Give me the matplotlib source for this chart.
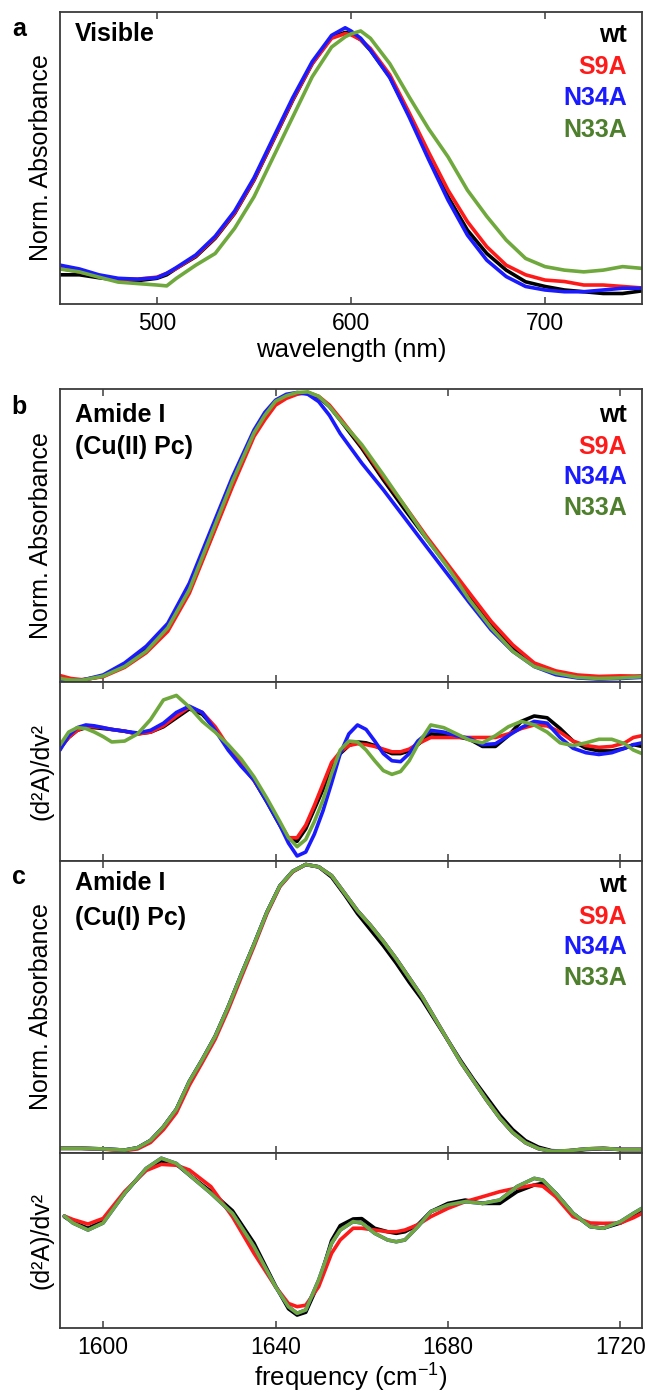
import matplotlib
matplotlib.use("Agg")
import matplotlib.pyplot as plt

plt.rcParams['font.family'] = ['Liberation Sans', 'DejaVu Sans']
plt.rcParams['mathtext.fontset'] = 'custom'
plt.rcParams['mathtext.rm'] = 'Liberation Sans'
plt.rcParams['mathtext.it'] = 'Liberation Sans:italic'

series_names = ["wt", "S9A", "N34A", "N33A"]
line_colors = ["#000000", "#ff1a1a", "#1a1aff", "#6fa83c"]
text_colors = ["#000000", "#ff1a1a", "#1a1aff", "#4e7f2c"]

# ---------------- panel a (visible) ----------------
wl = [450, 460, 470, 480, 490, 500, 505, 510, 520, 530, 540, 550, 560, 570, 580, 590, 597,
      600, 605, 610, 620, 630, 640, 650, 660, 670, 680, 690, 700, 710, 720, 730, 740, 750]
vis_wt = [0.10, 0.10, 0.09, 0.082, 0.08, 0.088, 0.10, 0.122, 0.162, 0.225, 0.31, 0.424, 0.561, 0.698, 0.823,
          0.914, 0.93, 0.926, 0.905, 0.869, 0.778, 0.647, 0.504, 0.367, 0.253, 0.173, 0.116, 0.076, 0.06,
          0.048, 0.042, 0.036, 0.036, 0.045]
vis_s9a = [0.122, 0.11, 0.095, 0.086, 0.085, 0.092, 0.105, 0.122, 0.165, 0.228, 0.312, 0.426, 0.563, 0.70, 0.823,
           0.91, 0.926, 0.922, 0.905, 0.875, 0.785, 0.655, 0.52, 0.39, 0.282, 0.196, 0.133, 0.10, 0.082,
           0.077, 0.065, 0.065, 0.06, 0.055]
vis_n34a = [0.133, 0.12, 0.10, 0.088, 0.085, 0.09, 0.105, 0.125, 0.168, 0.232, 0.318, 0.432, 0.57, 0.707, 0.83,
            0.92, 0.946, 0.935, 0.91, 0.869, 0.775, 0.64, 0.495, 0.356, 0.236, 0.15, 0.094, 0.06, 0.048,
            0.042, 0.042, 0.048, 0.054, 0.054]
vis_n33a = [0.12, 0.11, 0.092, 0.075, 0.07, 0.065, 0.062, 0.088, 0.133, 0.173, 0.259, 0.367, 0.504, 0.641, 0.778,
            0.88, 0.915, 0.925, 0.935, 0.91, 0.823, 0.709, 0.60, 0.504, 0.39, 0.30, 0.219, 0.156, 0.128,
            0.116, 0.11, 0.116, 0.128, 0.122]

# ---------------- panel b top (Cu(II) amide I) ----------------
fb = [1590, 1592.5, 1595, 1600, 1605, 1610, 1615, 1620, 1625, 1630, 1635, 1637.5, 1640, 1642.5, 1645, 1647.5,
      1650, 1652.5, 1655, 1660, 1665, 1670, 1675, 1680, 1685, 1690, 1695, 1700, 1705, 1710, 1715, 1720, 1725]
bt_wt = [0.015, 0.008, 0.006, 0.02, 0.058, 0.11, 0.185, 0.31, 0.49, 0.675, 0.845, 0.905, 0.952, 0.975, 0.985,
         0.988, 0.972, 0.94, 0.894, 0.798, 0.69, 0.588, 0.49, 0.394, 0.292, 0.195, 0.116, 0.06, 0.03, 0.016,
         0.012, 0.014, 0.02]
bt_s9a = [0.022, 0.012, 0.008, 0.018, 0.05, 0.10, 0.173, 0.303, 0.485, 0.667, 0.838, 0.895, 0.945, 0.968, 0.982,
          0.988, 0.975, 0.945, 0.90, 0.805, 0.70, 0.60, 0.497, 0.40, 0.303, 0.207, 0.127, 0.065, 0.038, 0.024,
          0.019, 0.021, 0.02]
bt_n34a = [0.01, 0.005, 0.006, 0.024, 0.065, 0.122, 0.20, 0.337, 0.519, 0.70, 0.86, 0.92, 0.962, 0.982, 0.988,
           0.982, 0.957, 0.91, 0.848, 0.747, 0.656, 0.559, 0.462, 0.366, 0.27, 0.178, 0.105, 0.053, 0.025, 0.014,
           0.01, 0.012, 0.016]
bt_n33a = [0.012, 0.007, 0.006, 0.02, 0.053, 0.105, 0.185, 0.315, 0.50, 0.685, 0.85, 0.91, 0.958, 0.977, 0.988,
           0.99, 0.975, 0.94, 0.894, 0.81, 0.707, 0.60, 0.49, 0.39, 0.28, 0.185, 0.105, 0.053, 0.03, 0.016,
           0.012, 0.014, 0.018]

# ---------------- panel b bottom (second derivative) ----------------
fbd = [1590, 1592, 1594, 1596, 1598, 1600, 1602, 1605, 1608, 1611, 1614, 1617, 1620, 1623, 1626, 1629,
       1632, 1635, 1638, 1641, 1643, 1645, 1647, 1649, 1651, 1653, 1655, 1657, 1659, 1661, 1663, 1665,
       1667, 1669, 1671, 1673, 1676, 1679, 1682, 1685, 1688, 1691, 1694, 1697, 1700, 1703, 1706, 1709,
       1712, 1715, 1718, 1721, 1723, 1725]
bd_wt = [0.63, 0.69, 0.73, 0.745, 0.745, 0.74, 0.735, 0.725, 0.71, 0.72, 0.75, 0.80, 0.85, 0.82, 0.74, 0.63,
         0.54, 0.452, 0.33, 0.20, 0.12, 0.11, 0.18, 0.29, 0.40, 0.53, 0.60, 0.645, 0.665, 0.66, 0.645, 0.62,
         0.60, 0.60, 0.615, 0.65, 0.71, 0.705, 0.695, 0.68, 0.64, 0.64, 0.70, 0.78, 0.81, 0.80, 0.74, 0.67,
         0.63, 0.615, 0.615, 0.63, 0.65, 0.64]
bd_s9a = [0.63, 0.69, 0.73, 0.75, 0.75, 0.745, 0.735, 0.725, 0.71, 0.72, 0.755, 0.81, 0.86, 0.83, 0.75, 0.64,
          0.545, 0.45, 0.34, 0.21, 0.13, 0.13, 0.20, 0.31, 0.43, 0.55, 0.61, 0.645, 0.655, 0.65, 0.64, 0.625,
          0.61, 0.61, 0.625, 0.655, 0.69, 0.69, 0.69, 0.69, 0.69, 0.69, 0.71, 0.74, 0.76, 0.755, 0.72, 0.67,
          0.645, 0.635, 0.64, 0.66, 0.69, 0.70]
bd_n34a = [0.62, 0.70, 0.745, 0.76, 0.755, 0.745, 0.735, 0.725, 0.715, 0.73, 0.77, 0.83, 0.865, 0.83, 0.73, 0.62,
           0.53, 0.452, 0.33, 0.20, 0.10, 0.028, 0.05, 0.15, 0.28, 0.436, 0.60, 0.71, 0.76, 0.735, 0.67, 0.60,
           0.56, 0.555, 0.60, 0.67, 0.73, 0.72, 0.70, 0.685, 0.65, 0.655, 0.70, 0.745, 0.78, 0.77, 0.69, 0.63,
           0.605, 0.595, 0.605, 0.63, 0.65, 0.66]
bd_n33a = [0.648, 0.72, 0.745, 0.74, 0.72, 0.695, 0.665, 0.67, 0.71, 0.79, 0.90, 0.925, 0.86, 0.78, 0.72, 0.65,
           0.57, 0.47, 0.35, 0.22, 0.13, 0.08, 0.12, 0.22, 0.34, 0.49, 0.62, 0.67, 0.665, 0.62, 0.56, 0.505,
           0.484, 0.50, 0.56, 0.65, 0.76, 0.745, 0.71, 0.675, 0.66, 0.70, 0.75, 0.78, 0.76, 0.72, 0.66, 0.645,
           0.66, 0.68, 0.68, 0.655, 0.62, 0.60]

# ---------------- panel c top (Cu(I) amide I) ----------------
fc = [1590, 1595, 1600, 1605, 1608, 1611, 1614, 1617, 1620, 1623, 1626, 1629, 1632, 1635, 1638, 1641, 1644,
      1647, 1650, 1653, 1656, 1659, 1662, 1665, 1668, 1671, 1674, 1677, 1680, 1683, 1686, 1689, 1692, 1695,
      1698, 1701, 1704, 1708, 1712, 1716, 1720, 1725]
ct_wt = [0.016, 0.016, 0.014, 0.01, 0.018, 0.043, 0.09, 0.15, 0.245, 0.32, 0.40, 0.50, 0.61, 0.715, 0.825,
         0.915, 0.965, 0.988, 0.98, 0.945, 0.885, 0.82, 0.765, 0.71, 0.65, 0.585, 0.525, 0.455, 0.385, 0.315,
         0.25, 0.19, 0.13, 0.08, 0.042, 0.02, 0.008, 0.006, 0.012, 0.015, 0.012, 0.012]
ct_s9a = [0.016, 0.016, 0.013, 0.008, 0.014, 0.036, 0.08, 0.138, 0.232, 0.31, 0.39, 0.49, 0.60, 0.708, 0.82,
          0.912, 0.963, 0.988, 0.98, 0.95, 0.89, 0.83, 0.78, 0.725, 0.665, 0.60, 0.535, 0.46, 0.385, 0.31,
          0.245, 0.18, 0.12, 0.07, 0.035, 0.015, 0.006, 0.008, 0.014, 0.016, 0.012, 0.012]
ct_n34a = [0.016, 0.016, 0.014, 0.01, 0.018, 0.043, 0.09, 0.15, 0.245, 0.32, 0.40, 0.50, 0.61, 0.715, 0.825,
           0.915, 0.965, 0.988, 0.98, 0.95, 0.89, 0.83, 0.78, 0.725, 0.665, 0.60, 0.535, 0.46, 0.385, 0.31,
           0.245, 0.18, 0.12, 0.07, 0.035, 0.015, 0.006, 0.008, 0.014, 0.016, 0.012, 0.012]
ct_n33a = [0.016, 0.016, 0.014, 0.01, 0.018, 0.043, 0.09, 0.15, 0.245, 0.32, 0.40, 0.50, 0.61, 0.715, 0.825,
           0.915, 0.965, 0.988, 0.98, 0.95, 0.89, 0.83, 0.78, 0.725, 0.665, 0.60, 0.535, 0.46, 0.385, 0.31,
           0.245, 0.18, 0.12, 0.07, 0.035, 0.015, 0.006, 0.008, 0.014, 0.016, 0.012, 0.012]

# ---------------- panel c bottom (second derivative) ----------------
fcd = [1591, 1593, 1596.5, 1600, 1605, 1610, 1613.5, 1617, 1620, 1625, 1630, 1635, 1640, 1643, 1645, 1647,
       1650, 1653, 1655, 1658, 1660, 1663, 1666, 1668, 1670, 1673, 1676, 1680, 1684, 1688, 1692, 1696,
       1700, 1702, 1705, 1709, 1713, 1716, 1720, 1723, 1725]
cd_wt = [0.636, 0.605, 0.57, 0.61, 0.77, 0.91, 0.955, 0.935, 0.875, 0.78, 0.67, 0.485, 0.24, 0.11, 0.074, 0.09,
         0.255, 0.50, 0.585, 0.623, 0.625, 0.57, 0.55, 0.541, 0.55, 0.59, 0.665, 0.712, 0.731, 0.712, 0.712,
         0.779, 0.817, 0.827, 0.77, 0.655, 0.58, 0.57, 0.60, 0.64, 0.67]
cd_s9a = [0.64, 0.62, 0.594, 0.626, 0.78, 0.90, 0.935, 0.93, 0.903, 0.808, 0.636, 0.427, 0.236, 0.14, 0.122, 0.13,
          0.236, 0.427, 0.503, 0.57, 0.57, 0.56, 0.55, 0.55, 0.56, 0.59, 0.636, 0.684, 0.722, 0.75, 0.779,
          0.80, 0.817, 0.81, 0.75, 0.636, 0.60, 0.598, 0.60, 0.63, 0.655]
cd_n34a = [0.64, 0.60, 0.56, 0.60, 0.77, 0.912, 0.97, 0.94, 0.874, 0.77, 0.655, 0.465, 0.236, 0.122, 0.084, 0.103,
           0.274, 0.484, 0.56, 0.608, 0.60, 0.541, 0.503, 0.493, 0.503, 0.579, 0.665, 0.703, 0.722, 0.712, 0.731,
           0.808, 0.855, 0.845, 0.77, 0.655, 0.579, 0.57, 0.608, 0.655, 0.684]
cd_n33a = [0.64, 0.60, 0.56, 0.60, 0.77, 0.912, 0.97, 0.94, 0.874, 0.77, 0.655, 0.465, 0.236, 0.122, 0.084, 0.103,
           0.274, 0.484, 0.56, 0.608, 0.60, 0.541, 0.503, 0.493, 0.503, 0.579, 0.665, 0.703, 0.722, 0.712, 0.731,
           0.808, 0.855, 0.845, 0.77, 0.655, 0.579, 0.57, 0.608, 0.655, 0.684]

vis_ticks = [500, 600, 700]
ir_ticks = [1600, 1640, 1680, 1720]

# ---------------- figure ----------------
W, H = 647, 1392
fig = plt.figure(figsize=(W / 100, H / 100), dpi=100)

def axes_px(top, bottom, left=60, right=642):
    return fig.add_axes([left / W, 1 - bottom / H, (right - left) / W, (bottom - top) / H])

ax_a = axes_px(12, 304)
ax_bt = axes_px(389, 682)
ax_bd = axes_px(682, 861)
ax_ct = axes_px(861, 1153)
ax_cd = axes_px(1153, 1328)

spine_col = "#3c3c3c"
LW = 2.6

def style(ax, xlim, ticks, labels=False):
    ax.set_xlim(*xlim)
    ax.set_xticks(ticks)
    ax.tick_params(axis='x', direction='in', top=True, bottom=True, length=5, width=1.1,
                   color=spine_col, labelsize=16.5, pad=6, labelbottom=labels)
    ax.tick_params(axis='y', left=False, right=False, labelleft=False)
    for s in ax.spines.values():
        s.set_color(spine_col)
        s.set_linewidth(1.3)

def plot_set(ax, x, ys):
    for y, c in zip(ys, line_colors):
        ax.plot(x, y, color=c, lw=LW, solid_capstyle='round', solid_joinstyle='round')

BOLD = 18

def legend(ax, ypos):
    for name, c, yy in zip(series_names, text_colors, ypos):
        ax.text(0.974, yy, name, transform=ax.transAxes, ha='right', va='center',
                fontsize=BOLD, fontweight='bold', color=c)

# panel a
plot_set(ax_a, wl, [vis_wt, vis_s9a, vis_n34a, vis_n33a])
style(ax_a, (450, 750), vis_ticks, labels=True)
ax_a.set_ylim(0, 1)
ax_a.set_xlabel("wavelength (nm)", fontsize=18.5, labelpad=2)
ax_a.set_ylabel("Norm. Absorbance", fontsize=18)
ax_a.text(0.026, 0.925, "Visible", transform=ax_a.transAxes, fontsize=BOLD, fontweight='bold', va='center')
legend(ax_a, [0.921, 0.812, 0.705, 0.596])

# panel b
plot_set(ax_bt, fb, [bt_wt, bt_s9a, bt_n34a, bt_n33a])
style(ax_bt, (1590, 1725), ir_ticks)
ax_bt.set_ylim(0, 1)
ax_bt.set_ylabel("Norm. Absorbance", fontsize=18)
ax_bt.text(0.026, 0.911, "Amide I", transform=ax_bt.transAxes, fontsize=BOLD, fontweight='bold', va='center')
ax_bt.text(0.026, 0.802, "(Cu(II) Pc)", transform=ax_bt.transAxes, fontsize=BOLD, fontweight='bold', va='center')
legend(ax_bt, [0.911, 0.802, 0.700, 0.594])

plot_set(ax_bd, fbd, [bd_wt, bd_s9a, bd_n34a, bd_n33a])
style(ax_bd, (1590, 1725), ir_ticks)
ax_bd.set_ylim(0, 1)
ax_bd.set_ylabel("(d²A)/dv²", fontsize=18)

# panel c
plot_set(ax_ct, fc, [ct_wt, ct_s9a, ct_n34a, ct_n33a])
style(ax_ct, (1590, 1725), ir_ticks)
ax_ct.set_ylim(0, 1)
ax_ct.set_ylabel("Norm. Absorbance", fontsize=18)
ax_ct.text(0.026, 0.925, "Amide I", transform=ax_ct.transAxes, fontsize=BOLD, fontweight='bold', va='center')
ax_ct.text(0.026, 0.805, "(Cu(I) Pc)", transform=ax_ct.transAxes, fontsize=BOLD, fontweight='bold', va='center')
legend(ax_ct, [0.918, 0.808, 0.705, 0.600])

plot_set(ax_cd, fcd, [cd_wt, cd_s9a, cd_n34a, cd_n33a])
style(ax_cd, (1590, 1725), ir_ticks, labels=True)
ax_cd.set_ylim(0, 1)
ax_cd.set_ylabel("(d²A)/dv²", fontsize=18)
ax_cd.set_xlabel("frequency (cm$^{-1}$)", fontsize=18.5, labelpad=2)

for ax in [ax_a, ax_bt, ax_bd, ax_ct, ax_cd]:
    ax.yaxis.set_label_coords(-0.012, 0.5)

for lbl, ypx in [("a", 29), ("b", 407), ("c", 877)]:
    fig.text(19 / W, 1 - ypx / H, lbl, fontsize=18, fontweight='bold', ha='center', va='center')

fig.savefig("out.png", dpi=100)
